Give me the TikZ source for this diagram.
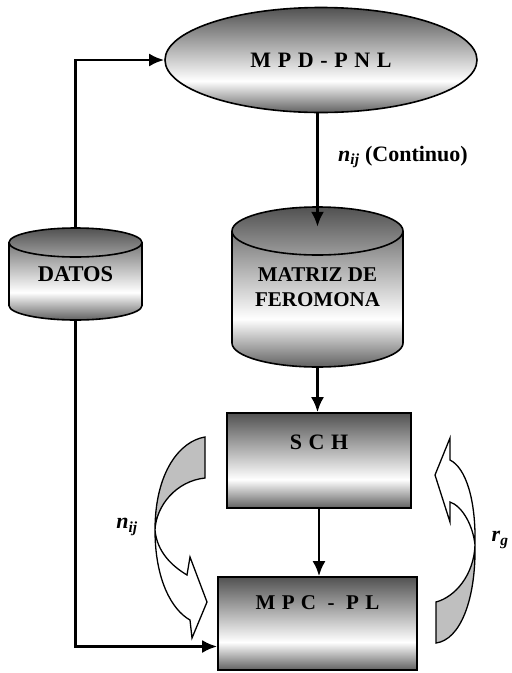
\documentclass[tikz,border=0pt]{standalone}
\usepackage{fontspec}
\setmainfont{Liberation Serif}
\usetikzlibrary{shapes.geometric,arrows.meta,calc}

\pgfdeclareverticalshading{cajagris}{100bp}{color(0bp)=(black!62); color(25bp)=(black!62);
  color(40bp)=(white); color(75bp)=(black!68); color(100bp)=(black!68)}

\tikzset{
  bloque/.style={draw, line width=1.6pt, shading=cajagris, inner sep=0pt,
    font=\bfseries\fontsize{22}{26}\selectfont\addfontfeature{LetterSpace=30}},
  deposito/.style={inner sep=0pt, align=center},
  cuerpo/.style={draw, line width=1.6pt, shading=cajagris},
  flecha/.style={->, line width=2.8pt},
  banda/.style={draw, line width=1.3pt, fill=#1},
  etiqueta/.style={font=\bfseries\fontsize{22}{26}\selectfont}
}

\begin{document}
\begin{tikzpicture}[x=1pt, y=-1pt, >={Latex[length=15pt,width=13pt]}]
    \useasboundingbox (0,0) rectangle (512,673);

    % 1. Depositos (cilindros)
    \path[cuerpo] (9,242.5) -- (9,305.5) arc[start angle=180, end angle=0, x radius=66.5, y radius=14.5]
        -- (142,242.5) arc[start angle=0, end angle=-180, x radius=66.5, y radius=14.5] -- cycle;
    \draw[line width=1.6pt] (9,242.5) arc[start angle=180, end angle=0, x radius=66.5, y radius=14.5];
    \path[cuerpo] (232,231) -- (232,343) arc[start angle=180, end angle=0, x radius=85.5, y radius=24]
        -- (403,231) arc[start angle=0, end angle=-180, x radius=85.5, y radius=24] -- cycle;
    \draw[line width=1.6pt] (232,231) arc[start angle=180, end angle=0, x radius=85.5, y radius=24];

    % 2. Bloques principales
    \node[bloque, ellipse, minimum width=312pt, minimum height=105pt] (mpd) at (321,60) {MPD-PNL};
    \node[deposito, minimum width=133pt, minimum height=92pt,
        font=\bfseries\fontsize{22.5}{26}\selectfont] (datos) at (75.5,274) {DATOS};
    \node[deposito, minimum width=171pt, minimum height=160pt,
        font=\bfseries\fontsize{21}{24.5}\selectfont] (matriz) at (317.5,287) {MATRIZ DE\\FEROMONA};
    \node[bloque, rectangle, minimum width=184pt, minimum height=95pt,
        text height=15pt, text depth=37pt] (sch) at (319,460.5) {SCH};
    \node[bloque, rectangle, minimum width=199pt, minimum height=93pt, text height=14pt, text depth=42pt,
        font=\bfseries\fontsize{21}{26}\selectfont\addfontfeature{LetterSpace=30}] (mpc) at (317.5,623.5) {MPC - PL};

    % 3. Conexiones
    \coordinate (entmatriz) at ([yshift=-20pt]matriz.north);
    \coordinate (entmpc) at ([yshift=-23pt]mpc.west);
    \draw[flecha] (datos.north) |- (mpd.west);
    \draw[flecha] (datos.south) |- (entmpc);
    \draw[flecha] (mpd.south -| matriz) -- (entmatriz);
    \draw[flecha] (matriz.south) -- (matriz.south |- sch.north);
    \draw[flecha] (sch.south) -- (sch.south |- mpc.north);

    % 4. Flechas curvas de retroalimentacion
    % izquierda (n_ij)
    \path[banda=black!25] (205,437) .. controls (180,441) and (155,472) .. (155,530)
        .. controls (156,506) and (176,481) .. (205,478) -- cycle;
    \path[banda=white] (155,530) .. controls (155,580) and (172,610) .. (190,620)
        -- (192,638) -- (207,602) -- (190,557) -- (187,575)
        .. controls (172,566) and (157,552) .. (155,530) -- cycle;
    % derecha (r_g)
    \path[banda=black!25] (436,602) .. controls (455,597) and (474,575) .. (475,545)
        .. controls (476,600) and (460,640) .. (436,643) -- cycle;
    \path[banda=white] (475,545) .. controls (476,500) and (466,468) .. (450,460)
        -- (450,438) -- (435,475) -- (450,522) -- (450,502)
        .. controls (462,506) and (473,525) .. (475,545) -- cycle;

    % 5. Etiquetas
    \node[etiqueta] (lblcont) at (403,157) {\textit{n}\textsubscript{\textit{ij}} (Continuo)};
    \node[etiqueta] (lblnij) at (127,527) {\textit{n}\textsubscript{\textit{ij}}};
    \node[etiqueta] (lblrg) at (500,540) {\textit{r}\textsubscript{\textit{g}}};
\end{tikzpicture}
\end{document}
